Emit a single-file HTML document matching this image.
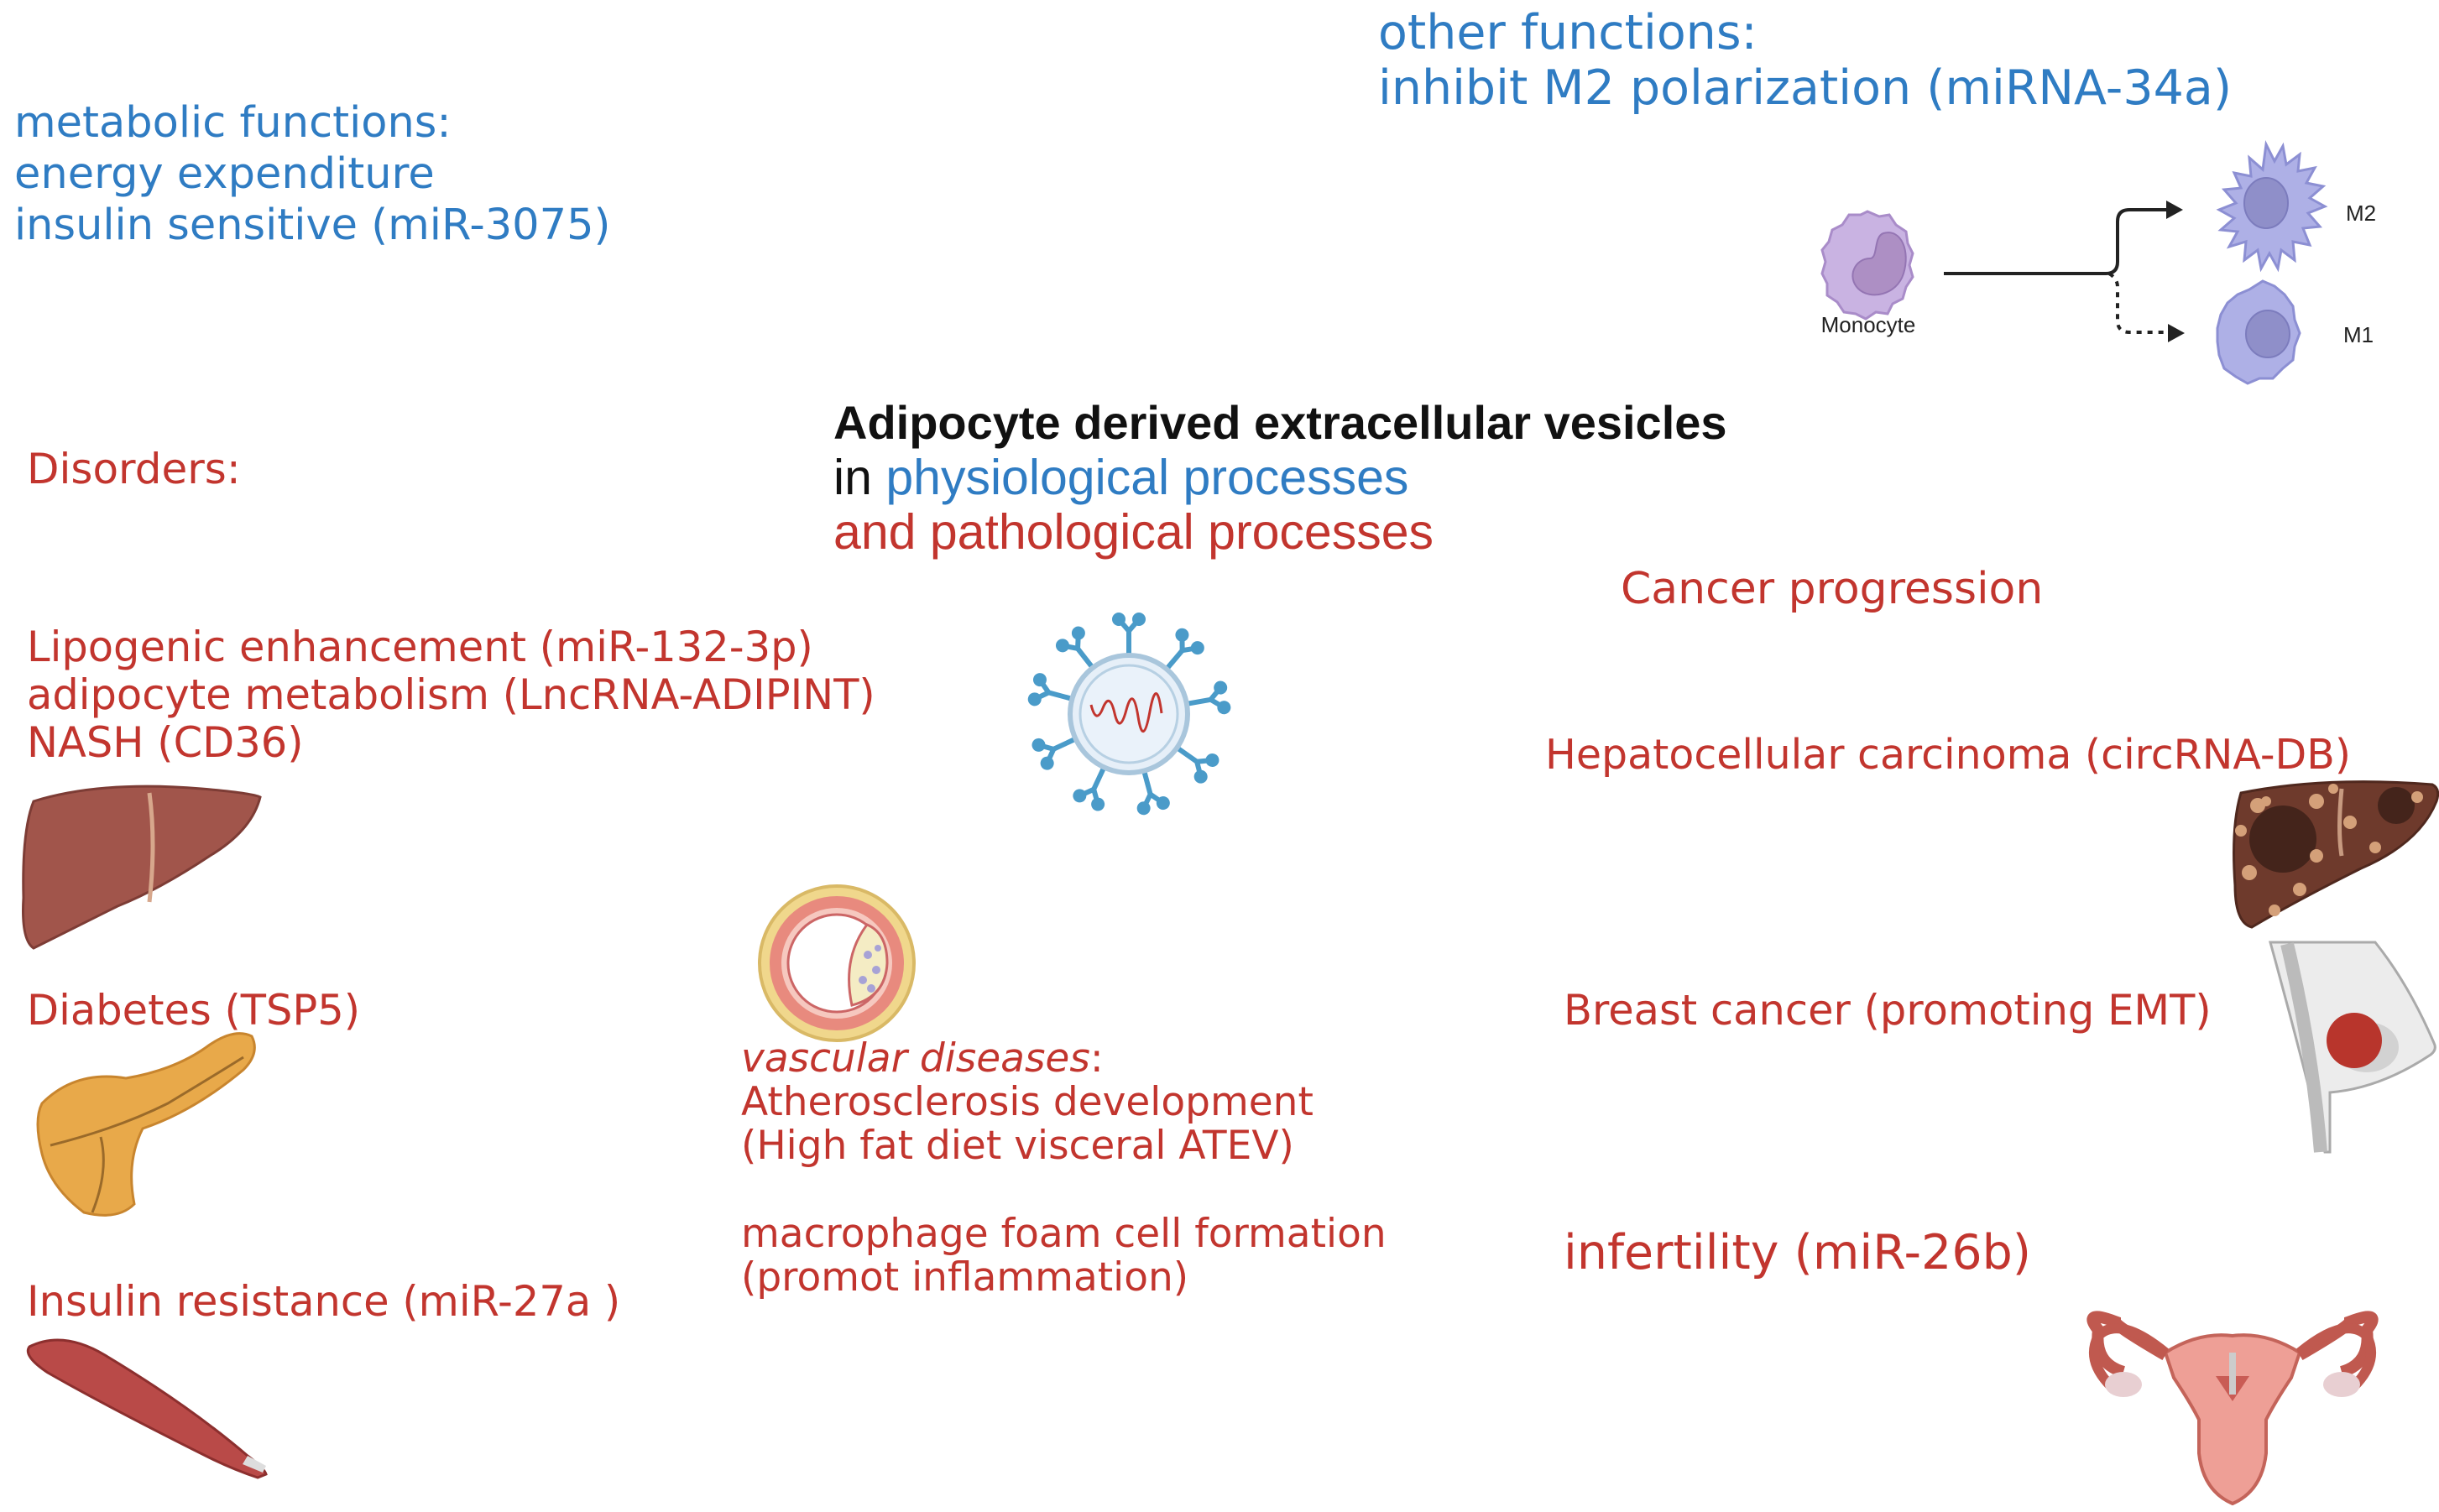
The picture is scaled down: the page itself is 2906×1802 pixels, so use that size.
<!DOCTYPE html>
<html><head><meta charset="utf-8"><style>
html,body{margin:0;padding:0;background:#fff;width:2906px;height:1802px;overflow:hidden}
svg{display:block}
.b{fill:#2f7cc3;font-family:"DejaVu Sans",sans-serif}
.r{fill:#c2352e;font-family:"DejaVu Sans",sans-serif}
</style></head><body>
<svg width="2906" height="1802" viewBox="0 0 2906 1802" xmlns="http://www.w3.org/2000/svg">
<text class="b" x="1642" y="58" font-size="57">other functions:</text>
<text class="b" x="1642" y="124" font-size="57">inhibit M2 polarization (miRNA-34a)</text>
<text class="b" x="17" y="163" font-size="51">metabolic functions:</text>
<text class="b" x="17" y="224" font-size="51">energy expenditure</text>
<text class="b" x="17" y="285" font-size="51">insulin sensitive (miR-3075)</text>
<text x="993" y="523" font-size="56" font-weight="bold" font-family="'Liberation Sans',sans-serif" fill="#111">Adipocyte derived extracellular vesicles</text>
<text x="993" y="589" font-size="59" font-family="'Liberation Sans',sans-serif" fill="#111">in <tspan fill="#2f7cc3">physiological processes</tspan></text>
<text x="993" y="654" font-size="59" font-family="'Liberation Sans',sans-serif" fill="#c2352e">and pathological processes</text>
<text class="r" x="32" y="576" font-size="50">Disorders:</text>
<text class="r" x="32" y="788" font-size="49.5">Lipogenic enhancement (miR-132-3p)</text>
<text class="r" x="32" y="845" font-size="49.5">adipocyte metabolism (LncRNA-ADIPINT)</text>
<text class="r" x="32" y="902" font-size="49.5">NASH (CD36)</text>
<text class="r" x="32" y="1221" font-size="49.5">Diabetes (TSP5)</text>
<text class="r" x="32" y="1568" font-size="49.5">Insulin resistance (miR-27a )</text>
<text class="r" x="883" y="1277" font-size="47"><tspan font-style="italic">vascular diseases</tspan>:</text>
<text class="r" x="883" y="1329" font-size="47">Atherosclerosis development</text>
<text class="r" x="883" y="1381" font-size="47">(High fat diet visceral ATEV)</text>
<text class="r" x="883" y="1486" font-size="47">macrophage foam cell formation</text>
<text class="r" x="883" y="1538" font-size="47">(promot inflammation)</text>
<text class="r" x="1931" y="719" font-size="52">Cancer progression</text>
<text class="r" x="1841" y="916" font-size="49">Hepatocellular carcinoma (circRNA-DB)</text>
<text class="r" x="1863" y="1221" font-size="49.5">Breast cancer (promoting EMT)</text>
<text class="r" x="1863" y="1512" font-size="57">infertility (miR-26b)</text>

<g transform="translate(-11,0)">
<path d="M2236 252 l14 6 12 -2 8 12 12 8 2 14 6 12 -4 14 4 14 -8 12 -4 14 -12 6 -6 12 -14 -2 -12 8 -12 -6 -14 -2 -8 -12 -12 -8 0 -14 -6 -12 4 -14 -4 -14 8 -10 4 -14 12 -6 8 -12 14 0z" fill="#c9b3e2" stroke="#a98cc9" stroke-width="3"/>
<path d="M2255 278 c22 -6 32 22 24 48 c-8 26 -40 32 -54 18 c-14 -14 -4 -36 14 -36 c10 0 4 -26 16 -30z" fill="#ad8fc4" stroke="#9475b3" stroke-width="2"/>
<text x="2237" y="396" font-size="26" font-family="'Liberation Sans',sans-serif" fill="#222" text-anchor="middle">Monocyte</text>
<path d="M2327 326 H2520 q14 0 14 -14 V264 q0 -14 14 -14 H2595" fill="none" stroke="#222" stroke-width="4"/>
<path d="M2612 250 l-20 -11 v22z" fill="#222"/>
<path d="M2524 326 q10 6 10 16 V382 q0 14 14 14 H2596" fill="none" stroke="#222" stroke-width="4" stroke-dasharray="6 7"/>
<path d="M2614 397 l-20 -11 v22z" fill="#222"/>
<path d="M2711 172 l10 20 10 -18 4 22 16 -12 -2 20 20 -4 -10 18 20 4 -16 14 18 10 -20 8 14 16 -20 2 8 20 -20 -4 2 22 -16 -12 -4 22 -10 -18 -10 18 -4 -22 -16 12 2 -22 -20 6 10 -18 -20 -2 16 -14 -18 -10 20 -8 -14 -16 20 -2 -8 -18 20 4 -2 -22 16 14z" fill="#aeb0e6" stroke="#8c8fd3" stroke-width="3"/>
<ellipse cx="2711" cy="242" rx="26" ry="30" fill="#8f8fc9" stroke="#7c7cbd" stroke-width="2"/>
<text x="2806" y="263" font-size="26" font-family="'Liberation Sans',sans-serif" fill="#222">M2</text>
<path d="M2707 335 l14 6 12 10 10 14 2 16 6 16 -6 16 -2 16 -12 10 -12 12 -16 0 -14 6 -14 -8 -14 -10 -6 -16 -2 -16 0 -16 4 -16 8 -14 12 -10 14 -6z" fill="#aeb0e6" stroke="#8c8fd3" stroke-width="3"/>
<ellipse cx="2713" cy="398" rx="26" ry="28" fill="#8f8fc9" stroke="#7c7cbd" stroke-width="2"/>
<text x="2803" y="408" font-size="26" font-family="'Liberation Sans',sans-serif" fill="#222">M1</text>
</g>

<g stroke="#4a9bc9" stroke-width="6" fill="#4a9bc9">
<g id="sp">
<line x1="1345" y1="780" x2="1345" y2="752"/><line x1="1345" y1="752" x2="1333" y2="738"/><line x1="1345" y1="752" x2="1357" y2="738"/>
<circle cx="1333" cy="738" r="5"/><circle cx="1357" cy="738" r="5"/>
</g>
<use href="#sp" transform="rotate(40 1345 851)"/>
<use href="#sp" transform="rotate(80 1345 851)"/>
<use href="#sp" transform="rotate(125 1345 851)"/>
<use href="#sp" transform="rotate(165 1345 851)"/>
<use href="#sp" transform="rotate(205 1345 851)"/>
<use href="#sp" transform="rotate(245 1345 851)"/>
<use href="#sp" transform="rotate(285 1345 851)"/>
<use href="#sp" transform="rotate(322 1345 851)"/>
</g>
<circle cx="1345" cy="851" r="70" fill="#e6eff8" stroke="#a9c6dc" stroke-width="6"/>
<circle cx="1345" cy="851" r="58" fill="#eaf2fa" stroke="#b7d0e3" stroke-width="3"/>
<path d="M1300 840 q6 24 14 4 t14 6 t14 -4 t14 8 t14 -6 t14 2" fill="none" stroke="#c2352e" stroke-width="3"/>
<circle cx="997" cy="1148" r="92" fill="#f0d78c" stroke="#d9b966" stroke-width="4"/>
<circle cx="997" cy="1148" r="80" fill="#e88a7e"/>
<circle cx="997" cy="1148" r="66" fill="#f6c8bf"/>
<circle cx="997" cy="1148" r="58" fill="#fff" stroke="#c66" stroke-width="3"/>
<path d="M1033 1102 q-30 40 -18 96 q40 -10 42 -50 q0 -36 -24 -46z" fill="#f4ecc4" stroke="#c66" stroke-width="3"/>
<g fill="#a7a2d6"><circle cx="1034" cy="1138" r="5"/><circle cx="1044" cy="1156" r="5"/><circle cx="1028" cy="1168" r="5"/><circle cx="1038" cy="1178" r="5"/><circle cx="1046" cy="1130" r="4"/></g>

<path d="M40 955 q80 -25 200 -15 q60 5 70 10 q-10 40 -60 70 q-60 40 -110 60 q-60 30 -100 50 q-15 -10 -12 -60 q-2 -80 12 -115z" fill="#a1554b" stroke="#7d3c35" stroke-width="3"/>
<path d="M178 945 q8 60 0 130" stroke="#d7a78c" stroke-width="5" fill="none"/>
<path d="M50 1315 q40 -40 100 -30 q60 -10 100 -40 q30 -20 50 -10 q10 20 -10 40 q-60 50 -120 70 q-20 40 -10 90 q-20 20 -60 10 q-40 -30 -50 -70 q-10 -40 0 -60z" fill="#e8a94a" stroke="#c8852e" stroke-width="3"/>
<path d="M60 1365 q80 -20 140 -50 q50 -30 90 -55 M120 1355 q10 40 -10 90" stroke="#9a6a2a" stroke-width="3" fill="none"/>
<path d="M35 1605 q40 -20 90 10 q100 60 170 120 q20 15 22 22 l-10 4 q-30 -10 -60 -25 q-120 -60 -190 -100 q-30 -20 -22 -31z" fill="#b94a48" stroke="#8c2f2e" stroke-width="3"/>
<path d="M295 1735 l22 12 -4 8 -24 -10z" fill="#ddd"/>

<path d="M2670 945 q100 -20 228 -10 q10 5 5 20 q-20 50 -90 80 q-80 40 -130 70 q-20 -5 -20 -50 q-5 -70 7 -110z" fill="#6e3a2c" stroke="#4f281e" stroke-width="3"/>
<circle cx="2720" cy="1000" r="40" fill="#3a1f18" opacity=".8"/>
<circle cx="2855" cy="960" r="22" fill="#3a1f18" opacity=".8"/>
<g fill="#d4a079"><circle cx="2690" cy="960" r="9"/><circle cx="2760" cy="955" r="9"/><circle cx="2800" cy="980" r="8"/><circle cx="2830" cy="1010" r="7"/><circle cx="2680" cy="1040" r="9"/><circle cx="2740" cy="1060" r="8"/><circle cx="2880" cy="950" r="7"/><circle cx="2710" cy="1085" r="7"/><circle cx="2780" cy="940" r="6"/><circle cx="2670" cy="990" r="7"/><circle cx="2760" cy="1020" r="8"/><circle cx="2700" cy="955" r="6"/></g>
<path d="M2790 940 q-5 50 0 80" stroke="#c79a80" stroke-width="5" fill="none"/>
<path d="M2705 1123 H2830 q40 50 70 120 q4 8 -4 14 q-60 40 -120 45 V1373 H2770 Q2740 1250 2705 1123z" fill="#ececec" stroke="#aaa" stroke-width="3"/>
<path d="M2725 1125 Q2755 1250 2765 1373" stroke="#bbb" stroke-width="16" fill="none"/>
<ellipse cx="2820" cy="1248" rx="38" ry="30" fill="#d2d2d2"/>
<circle cx="2805" cy="1240" r="33" fill="#b8352c"/>
<path d="M2580 1612 q40 -25 80 -20 q40 -5 80 20 l-10 30 q-20 30 -30 50 v40 q-5 45 -40 60 q-35 -15 -40 -60 v-40 q-10 -20 -30 -50z" fill="#ee9f96" stroke="#c4645a" stroke-width="4"/>
<path d="M2640 1640 l20 30 20 -30z" fill="#c95c55"/>
<path d="M2580 1615 q-60 -35 -60 -40 q-40 -15 -20 10 q-5 40 30 50 M2740 1615 q60 -35 60 -40 q40 -15 20 10 q5 40 -30 50" stroke="#c0594f" stroke-width="14" fill="none"/>
<path d="M2580 1612 q-55 -45 -80 -20 q-15 30 15 60 M2740 1612 q55 -45 80 -20 q15 30 -15 60" stroke="#c0594f" stroke-width="12" fill="none"/>
<ellipse cx="2530" cy="1650" rx="22" ry="15" fill="#e8cfd2"/>
<ellipse cx="2790" cy="1650" rx="22" ry="15" fill="#e8cfd2"/>
<rect x="2656" y="1612" width="8" height="50" fill="#ccc"/>
</svg>
</body></html>
